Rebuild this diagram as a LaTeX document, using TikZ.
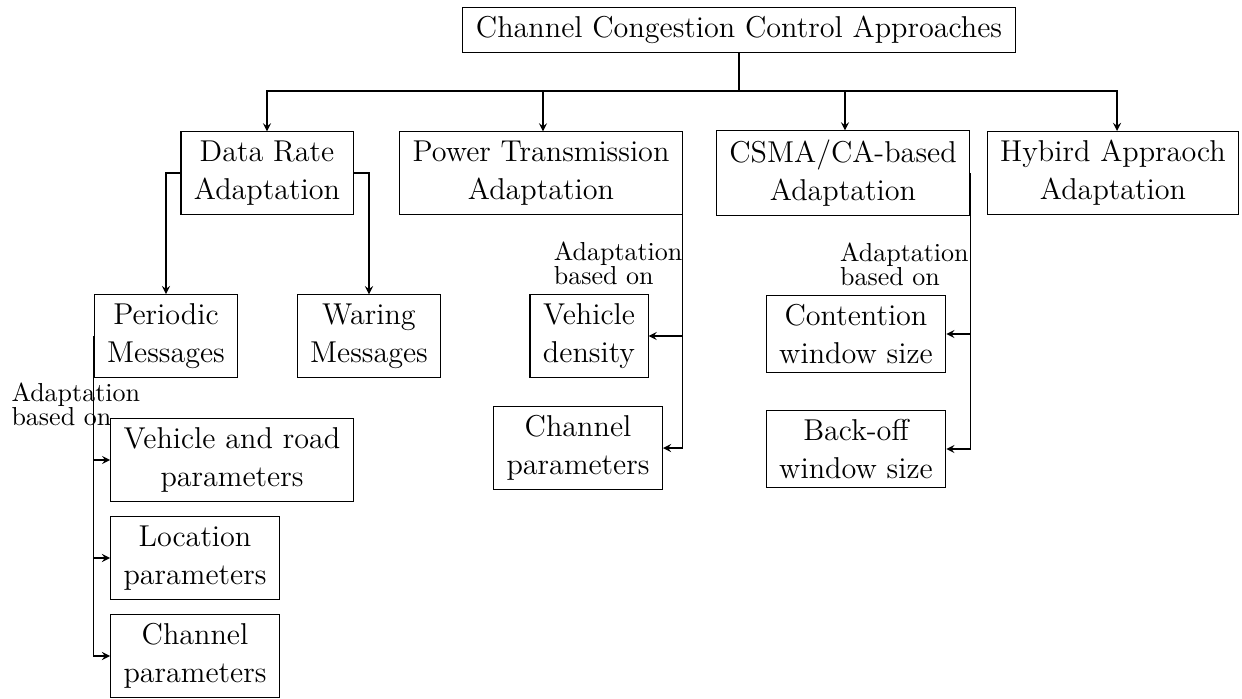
\documentclass[tikz,border=0pt]{standalone}
\usepackage{amsmath,amssymb}
\usepackage{tikz}
\usetikzlibrary{arrows,positioning,calc}

\tikzset{
  catbox/.style={draw, align=center, inner xsep=5pt, inner ysep=3.4pt,
    font=\fontsize{11.6}{14.6}\selectfont},
  basedlbl/.style={align=left, inner sep=0pt, font=\fontsize{10}{9.5}\selectfont},
}

\begin{document}
\begin{tikzpicture}[x=0.01352cm, y=-0.01352cm, >=stealth]
  \useasboundingbox (0,0) rectangle (1242,698);
  % root
  \node[catbox] (root) at (739,30) {Channel Congestion Control Approaches};
  \coordinate (bus) at (739,91);
  % second level
  \node[catbox] (dr) at (267,173) {Data Rate\\Adaptation};
  \node[catbox] (pt) at (541,173) {Power Transmission\\Adaptation};
  \node[catbox] (cs) at (843,173) {CSMA/CA-based\\Adaptation};
  \node[catbox] (hy) at (1113,173) {Hybird Appraoch\\Adaptation};
  \draw (root.south) -- (bus);
  \draw[->] (bus) -| (dr.north);
  \draw[->] (bus) -| ($(pt.north)+(2,0)$);
  \draw[->] (bus) -| ($(cs.north)+(2,0)$);
  \draw[->] (bus) -| ($(hy.north)+(4,0)$);
  % data rate
  \node[catbox] (pm) at (166,336) {Periodic\\Messages};
  \node[catbox] (wm) at (369,336) {Waring\\Messages};
  \draw[->] (dr.west) -| (pm.north);
  \draw[->] (dr.east) -| (wm.north);
  \node[basedlbl, anchor=north west] (pmlbl) at (11,382) {Adaptation\\based on};
  \node[catbox] (vr) at (232,460) {Vehicle and road\\parameters};
  \node[catbox] (lp) at (195,558) {Location\\parameters};
  \node[catbox] (ch) at (195,656) {Channel\\parameters};
  \draw[->] (pm.west) |- (vr.west);
  \draw[->] (pm.west) |- (lp.west);
  \draw[->] (pm.west) |- (ch.west);
  % power transmission
  \node[basedlbl, anchor=north east] (ptlbl) at ($(pt.east)+(0,68)$) {Adaptation\\based on};
  \node[catbox] (vd) at (589,336) {Vehicle\\density};
  \node[catbox] (cp) at (578,448) {Channel\\parameters};
  \draw[->] (pt.east) |- (vd.east);
  \draw[->] (pt.east) |- (cp.east);
  % csma/ca
  \node[basedlbl, anchor=north east] (cslbl) at ($(cs.east)+(-1,69)$) {Adaptation\\based on};
  \node[catbox] (cw) at (856,334) {Contention\\window size};
  \node[catbox] (bo) at (856,449) {Back-off\\window size};
  \draw[->] (cs.east) |- (cw.east);
  \draw[->] (cs.east) |- (bo.east);
\end{tikzpicture}
\end{document}
